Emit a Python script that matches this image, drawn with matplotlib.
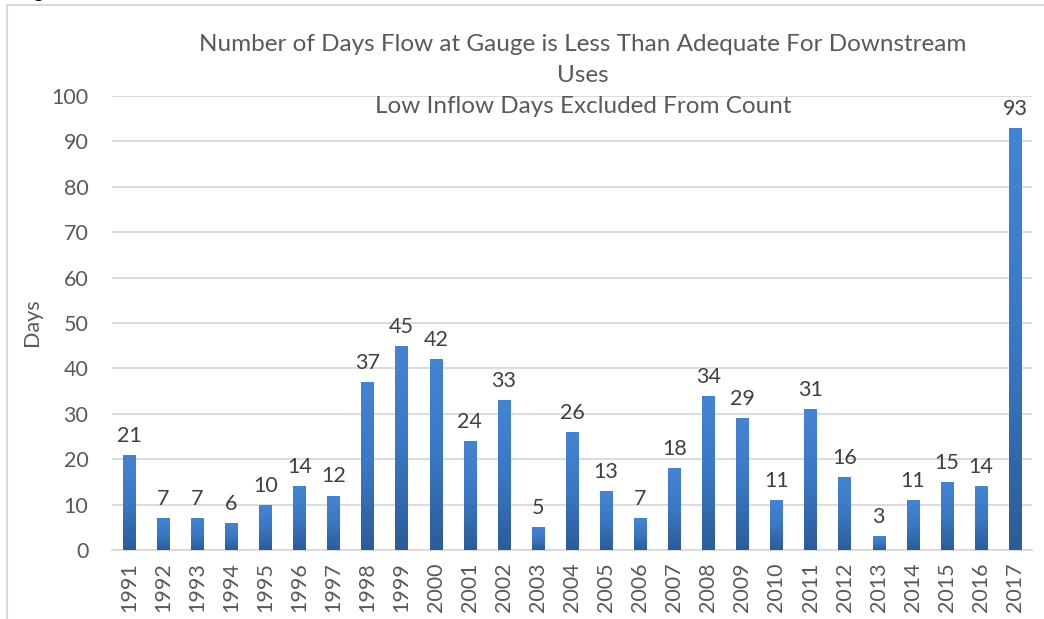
import numpy as np
import matplotlib.pyplot as plt
from matplotlib.patches import Rectangle
from matplotlib.colors import LinearSegmentedColormap

# data
years = [str(y) for y in range(1991, 2018)]
days = [21, 7, 7, 6, 10, 14, 12, 37, 45, 42, 24, 33, 5, 26, 13, 7, 18, 34, 29, 11,
        31, 16, 3, 11, 15, 14, 93]
yticks = list(range(0, 101, 10))

title_txt = ("Number of Days Flow at Gauge is Less Than Adequate For Downstream\n"
             "Uses\nLow Inflow Days Excluded From Count")

plt.rcParams['font.family'] = ['Lato', 'DejaVu Sans']
txt_col = '#595959'

W, H = 1044, 619
fig = plt.figure(figsize=(W / 100, H / 100), dpi=100)
ax = fig.add_axes([112 / W, 1 - 550 / H, (1032 - 112) / W, (550 - 96) / H])

x = np.arange(len(years))
bw = 0.36
bars = ax.bar(x, days, width=bw, color='#3A76C0', zorder=2)

# vertical gradient inside each bar (lighter top, darker bottom)
cmap = LinearSegmentedColormap.from_list('bg', ['#2B5C98', '#3A78C4', '#4484D4'])
grad = np.linspace(0, 1, 256).reshape(-1, 1)
for b in bars:
    x0, w, h = b.get_x(), b.get_width(), b.get_height()
    im = ax.imshow(grad, cmap=cmap, aspect='auto', origin='lower',
                   extent=(x0, x0 + w, 0, h), zorder=3)
    im.set_clip_path(b)

for xi, v in zip(x, days):
    ax.text(xi, v + 2.0, str(v), ha='center', va='bottom', fontsize=15.5, color='#404040')

ax.set_xlim(-0.5, len(years) - 0.5)
ax.set_ylim(0, 100)
ax.set_yticks(yticks)
ax.set_xticks(x)
ax.set_xticklabels(years, rotation=90)
ax.tick_params(axis='both', length=0, labelsize=15.5, labelcolor=txt_col)
ax.tick_params(axis='y', pad=17)
ax.tick_params(axis='x', pad=9)
ax.yaxis.grid(True, color='#D9D9D9', lw=1.3, zorder=0)
ax.set_axisbelow(True)
for s in ['top', 'right', 'left']:
    ax.spines[s].set_visible(False)
ax.spines['bottom'].set_color('#D9D9D9')
ax.spines['bottom'].set_linewidth(1.3)

fig.text(32 / W, 1 - 322 / H, 'Days', rotation=90, ha='center', va='center',
         fontsize=15.5, color=txt_col)
fig.text(583 / W, 1 - 34 / H, title_txt, ha='center', va='top', fontsize=17.5,
         color=txt_col, linespacing=1.6)

# outer chart frame and clipped caption above it
fig.patches.append(Rectangle((7 / W, -0.1), 1.2, 1 - 5 / H + 0.1, transform=fig.transFigure,
                             fill=False, ec='#D9D9D9', lw=1.5))
fig.text(18 / W, 1 + 2 / H, 'Figure', ha='left', va='baseline', fontsize=14, color='black')

fig.savefig('out.png', dpi=100)
